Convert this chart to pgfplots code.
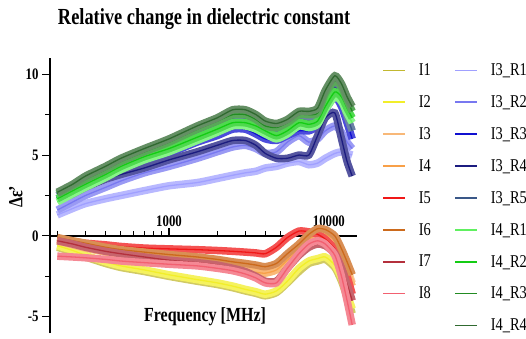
\documentclass[border=0pt]{standalone}
\usepackage{fontspec}
\setmainfont{Liberation Serif}[FakeStretch=0.8]
\usepackage{pgfplots}
\pgfplotsset{compat=1.18}
\usepackage{pgfplotstable}

\definecolor{colIa}{RGB}{194,184,48}
\definecolor{colIb}{RGB}{242,238,42}
\definecolor{colIc}{RGB}{248,184,120}
\definecolor{colId}{RGB}{248,160,72}
\definecolor{colIe}{RGB}{240,24,24}
\definecolor{colIf}{RGB}{204,106,28}
\definecolor{colIg}{RGB}{180,48,60}
\definecolor{colIh}{RGB}{242,96,112}
\definecolor{colRa}{RGB}{160,160,255}
\definecolor{colRb}{RGB}{120,120,240}
\definecolor{colRc}{RGB}{16,16,208}
\definecolor{colRd}{RGB}{28,28,128}
\definecolor{colRe}{RGB}{58,88,136}
\definecolor{colRf}{RGB}{96,240,96}
\definecolor{colRg}{RGB}{20,204,20}
\definecolor{colRh}{RGB}{34,139,34}
\definecolor{colRi}{RGB}{48,106,48}

\pgfplotstableread{
f I3R1 I3R2 I3R3 I3R4 I3R5 I4R1 I4R2 I4R3 I4R4
200 1.3 1.6 2.3 2.2 2.5 2.1 2.3 2.6 2.7
250 1.7 2.1 2.7 2.6 3.0 2.6 2.8 3.1 3.2
300 2.0 2.5 3.1 3.0 3.4 3.0 3.2 3.5 3.7
400 2.3 3.0 3.6 3.5 4.0 3.6 3.8 4.1 4.3
500 2.5 3.4 4.0 3.8 4.5 4.1 4.3 4.6 4.8
700 2.8 3.9 4.6 4.2 5.1 4.7 4.9 5.2 5.4
1000 3.1 4.3 5.1 4.7 5.7 5.2 5.4 5.8 6.0
1500 3.3 4.8 5.8 5.2 6.4 5.9 6.1 6.6 6.8
2000 3.55 5.2 6.2 5.6 6.9 6.4 6.6 7.1 7.3
2500 3.75 5.5 6.6 5.9 7.3 6.8 7.0 7.5 7.8
3000 3.9 5.6 6.6 5.9 7.3 6.8 7.0 7.5 7.8
3500 4.0 5.4 6.3 5.6 7.0 6.6 6.8 7.2 7.5
4000 4.2 5.1 6.0 5.1 6.6 6.3 6.5 6.8 7.1
4700 4.3 5.2 5.9 4.8 6.4 6.0 6.2 6.7 6.95
5500 4.5 5.8 6.2 4.8 6.7 6.3 6.5 7.0 7.2
6500 4.6 6.2 6.5 5.0 7.2 6.8 7.0 7.5 7.7
7500 4.4 5.8 6.5 5.0 7.1 6.7 6.9 7.5 7.7
8500 4.5 6.0 6.8 6.2 7.3 6.9 7.1 7.6 7.9
9500 4.8 6.5 7.8 7.3 8.4 7.8 8.0 8.8 9.0
10900 5.1 6.8 8.6 7.6 9.2 8.6 8.9 9.6 9.9
12000 5.2 6.4 8.0 6.0 8.5 8.3 8.6 9.2 9.4
13000 5.1 5.8 7.0 4.6 7.4 7.6 7.9 8.4 8.6
14000 5.0 5.4 6.0 3.7 6.5 7.0 7.3 7.7 8.0
}\uppertab

\pgfplotstableread{
f I1 I2 I3 I4 I5 I6 I7 I8
200 -0.7 -0.6 -0.2 -0.3 -0.2 -0.1 -0.3 -1.25
250 -1.0 -0.9 -0.4 -0.55 -0.35 -0.3 -0.5 -1.3
300 -1.3 -1.2 -0.6 -0.75 -0.45 -0.45 -0.7 -1.35
400 -1.7 -1.6 -0.85 -1.0 -0.55 -0.7 -0.95 -1.45
500 -1.95 -1.85 -1.0 -1.2 -0.65 -0.85 -1.1 -1.55
700 -2.2 -2.1 -1.2 -1.4 -0.75 -1.0 -1.3 -1.65
1000 -2.5 -2.4 -1.4 -1.6 -0.8 -1.15 -1.5 -1.75
1500 -2.8 -2.7 -1.6 -1.8 -0.85 -1.3 -1.65 -1.85
2000 -3.0 -2.9 -1.75 -1.95 -0.9 -1.45 -1.8 -2.0
2500 -3.2 -3.1 -1.85 -2.05 -0.95 -1.6 -2.0 -2.15
3000 -3.4 -3.3 -1.95 -2.15 -1.0 -1.7 -2.2 -2.35
3500 -3.55 -3.45 -2.05 -2.25 -1.05 -1.8 -2.5 -2.6
4000 -3.7 -3.6 -2.1 -2.3 -1.1 -1.9 -2.8 -2.9
4700 -3.5 -3.4 -1.9 -2.1 -0.7 -1.7 -2.8 -2.9
5500 -2.9 -2.8 -1.3 -1.5 -0.1 -1.1 -2.0 -2.0
6500 -2.2 -2.0 -0.6 -0.8 0.3 -0.5 -1.2 -1.1
7500 -1.7 -1.55 0.0 -0.2 0.25 0.1 -0.7 -0.5
8500 -1.55 -1.4 0.3 0.1 0.1 0.45 -0.5 -0.3
9500 -1.45 -1.3 0.3 0.1 -0.2 0.4 -0.6 -0.5
10900 -1.95 -1.8 -0.1 -0.3 -0.8 0.0 -1.1 -1.2
12000 -2.8 -2.6 -1.0 -1.2 -1.6 -0.8 -2.0 -2.5
13000 -3.8 -3.6 -2.0 -2.2 -2.5 -1.6 -3.0 -4.0
14000 -4.8 -4.5 -2.9 -3.1 -3.6 -2.4 -4.0 -5.5
}\lowertab

\newcommand{\series}[3]{%
  \addplot[forget plot, color=#3!75!white, line width=7.5pt, smooth, tension=0.4] table[x=f,y=#2]{#1};
  \addplot[color=#3, line width=1.3pt, smooth, tension=0.4] table[x=f,y=#2]{#1};
}

\begin{document}
\begin{tikzpicture}
\useasboundingbox (0,0) rectangle (526pt,339pt);
\begin{axis}[
  at={(50pt,6pt)}, anchor=south west,
  scale only axis, width=307pt, height=275pt,
  xmode=log, xmin=180, xmax=15000, ymin=-6, ymax=11,
  axis x line=middle, axis y line=left,
  axis line style={-, line width=1.2pt, black},
  xtick={1000,10000}, xticklabels={1000,10000},
  minor xtick={200,300,400,500,600,700,800,900,2000,3000,4000,5000,6000,7000,8000,9000},
  ytick={-5,0,5,10}, minor ytick={-2.5,2.5,7.5},
  major tick length=8pt, minor tick length=5pt,
  tick style={line width=1.1pt, black},
  tick align=center,
  major x tick style={yshift=4pt},
  minor x tick style={yshift=2.5pt},
  major y tick style={xshift=-4pt},
  minor y tick style={xshift=-2.5pt},
  ticklabel style={font=\fontsize{16}{16}\selectfont\bfseries},
  /pgf/number format/assume math mode=true,
  yticklabel style={xshift=-4pt},
  xticklabel style={anchor=south, yshift=10pt},
  title={\fontsize{23}{23}\selectfont\bfseries Relative change in dielectric constant},
  title style={at={(axis description cs:0.502,1.12)}, anchor=center},
  xlabel={\fontsize{20}{20}\selectfont\bfseries Frequency [MHz]},
  xlabel style={at={(axis description cs:0.505,0.058)}, anchor=center},
  ylabel={\fontsize{20}{20}\selectfont\bfseries Δε'},
  ylabel style={at={(axis description cs:-0.111,0.495)}, anchor=center},
  legend cell align=left,
  legend style={at={(axis description cs:1.072,0.995)}, anchor=north west, draw=none, fill=none,
    font=\fontsize{18}{18}\selectfont, row sep=14.5pt,
    /tikz/every odd column/.append style={column sep=11pt},
    /tikz/every even column/.append style={column sep=21.5pt}},
  legend image code/.code={\draw[#1, line width=1.5pt] (0pt,0pt) -- (22pt,0pt);},
  transpose legend, legend columns=9,
  clip=false,
]
\series{\lowertab}{I1}{colIa}\addlegendentry{I1}
\series{\lowertab}{I2}{colIb}\addlegendentry{I2}
\series{\lowertab}{I3}{colIc}\addlegendentry{I3}
\series{\lowertab}{I4}{colId}\addlegendentry{I4}
\series{\lowertab}{I5}{colIe}\addlegendentry{I5}
\series{\lowertab}{I6}{colIf}\addlegendentry{I6}
\series{\lowertab}{I7}{colIg}\addlegendentry{I7}
\series{\lowertab}{I8}{colIh}\addlegendentry{I8}
\addlegendimage{empty legend}\addlegendentry{}
\series{\uppertab}{I3R1}{colRa}\addlegendentry{I3\_R1}
\series{\uppertab}{I3R2}{colRb}\addlegendentry{I3\_R2}
\series{\uppertab}{I3R3}{colRc}\addlegendentry{I3\_R3}
\series{\uppertab}{I3R4}{colRd}\addlegendentry{I3\_R4}
\series{\uppertab}{I3R5}{colRe}\addlegendentry{I3\_R5}
\series{\uppertab}{I4R1}{colRf}\addlegendentry{I4\_R1}
\series{\uppertab}{I4R2}{colRg}\addlegendentry{I4\_R2}
\series{\uppertab}{I4R3}{colRh}\addlegendentry{I4\_R3}
\series{\uppertab}{I4R4}{colRi}\addlegendentry{I4\_R4}
\end{axis}
\end{tikzpicture}
\end{document}
